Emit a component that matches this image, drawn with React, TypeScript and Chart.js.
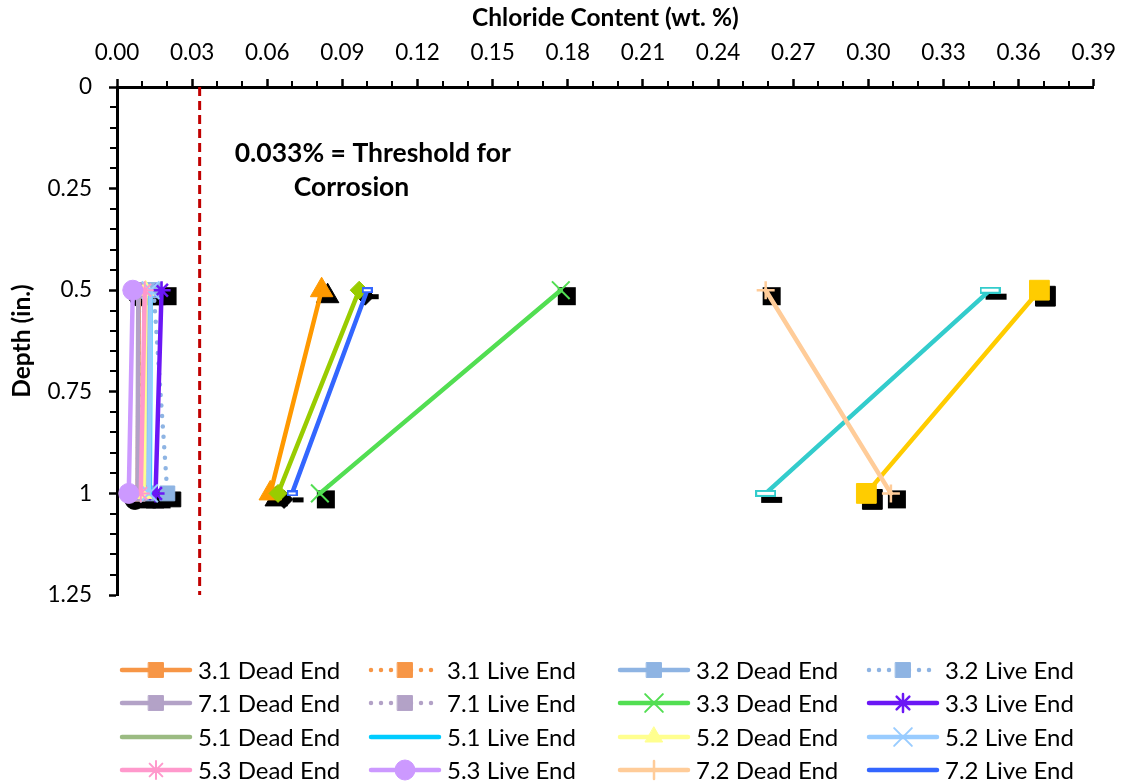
import React, { useEffect, useRef } from 'react';
import { Chart, registerables } from 'chart.js';
import { drawPoint } from 'chart.js/helpers';

Chart.register(...registerables);

// Sample depths (in.)
const depths = [0.5, 1];

// Chloride content (wt. %) at 0.5 in. and 1.0 in.
const dead31 = [0.0087, 0.0083];
const live31 = [0.0088, 0.0084];
const dead32 = [0.013, 0.0126];
const live32 = [0.0146, 0.0201];
const dead71 = [0.0085, 0.0082];
const live71 = [0.0086, 0.0083];
const dead33 = [0.1772, 0.081];
const live33 = [0.0178, 0.0154];
const dead51 = [0.011, 0.0107];
const live51 = [0.0134, 0.0131];
const dead52 = [0.0114, 0.0106];
const live52 = [0.0134, 0.0128];
const dead53 = [0.0111, 0.0095];
const live53 = [0.0063, 0.0047];
const dead72 = [0.259, 0.309];
const live72 = [0.0999, 0.0699];

// Additional cores plotted without legend entries
const coreA = [0.0817, 0.0612];
const coreB = [0.0967, 0.0643];
const coreC = [0.3486, 0.259];
const coreD = [0.3683, 0.2992];

// Corrosion threshold and axis ranges
const threshold = 0.033;
const depthRange = [0, 1.25];
const xMax = 0.39;
const xStep = 0.03;
const yStep = 0.25;

const thresholdText = ['0.033% = Threshold for', 'Corrosion'];

type Style = {
  color: string;
  marker?: string;
  r?: number;
  dotted?: boolean;
  stroke?: number;
  dash?: [number, number];
  legendMarker?: boolean;
};

const legendSeries: [string, number[], Style][] = [
  ['3.1 Dead End', dead31, { color: '#F79646', marker: 'rect', r: 10.5 }],
  ['3.1 Live End', live31, { color: '#F79646', marker: 'rect', r: 10.5, dotted: true }],
  ['3.2 Dead End', dead32, { color: '#8EB4E3', marker: 'rect', r: 10.5 }],
  ['3.2 Live End', live32, { color: '#8EB4E3', marker: 'rect', r: 10.5, dotted: true }],
  ['7.1 Dead End', dead71, { color: '#B3A2C7', marker: 'rect', r: 10.5 }],
  ['7.1 Live End', live71, { color: '#B3A2C7', marker: 'rect', r: 10.5, dotted: true }],
  ['3.3 Dead End', dead33, { color: '#52DE52', marker: 'crossRot', r: 12.5, stroke: 2 }],
  ['3.3 Live End', live33, { color: '#6B17F5', marker: 'star', r: 9, stroke: 2.5 }],
  ['5.1 Dead End', dead51, { color: '#9BBB82' }],
  ['5.1 Live End', live51, { color: '#00CCFF' }],
  ['5.2 Dead End', dead52, { color: '#FFFF8F', marker: 'triangle', r: 10 }],
  ['5.2 Live End', live52, { color: '#99CCFF', marker: 'crossRot', r: 12.5, stroke: 2 }],
  ['5.3 Dead End', dead53, { color: '#FF99CC', marker: 'star', r: 9, stroke: 2 }],
  ['5.3 Live End', live53, { color: '#CC99FF', marker: 'circle', r: 10 }],
  ['7.2 Dead End', dead72, { color: '#FFCC99', marker: 'cross', r: 9, stroke: 2.5 }],
  ['7.2 Live End', live72, { color: '#3366FF', dash: [11, 6], legendMarker: false }],
];

const otherSeries: [string, number[], Style][] = [
  ['Core A', coreA, { color: '#FF9900', marker: 'triangle', r: 13 }],
  ['Core B', coreB, { color: '#99CC00', marker: 'rectRot', r: 9 }],
  ['Core C', coreC, { color: '#33CCCC', dash: [21, 7] }],
  ['Core D', coreD, { color: '#FFCC00', marker: 'rect', r: 14 }],
];

const FONT = 'Lato, "Open Sans", sans-serif';

function dashMarker(color: string, w: number, h: number) {
  const c = document.createElement('canvas');
  c.width = w;
  c.height = h;
  const g = c.getContext('2d')!;
  g.fillStyle = '#fff';
  g.fillRect(0, 0, w, h);
  g.strokeStyle = color;
  g.lineWidth = 2;
  g.strokeRect(1, 1, w - 2, h - 2);
  return c;
}

function makeDataset(label: string, xs: number[], s: Style, idx: number, legendIdx: number) {
  let pointStyle: any = s.marker ?? false;
  let radius = s.marker ? s.r : 0;
  if (s.dash) {
    pointStyle = dashMarker(s.color, s.dash[0], s.dash[1]);
    radius = 8;
  }
  return {
    label,
    data: depths.map((d, i) => ({ x: xs[i], y: d })),
    showLine: true,
    borderColor: s.color,
    backgroundColor: s.color,
    borderWidth: 4.5,
    borderDash: s.dotted ? [0, 10.5] : [],
    borderCapStyle: 'round',
    pointStyle,
    pointRadius: radius,
    pointHoverRadius: radius,
    pointBackgroundColor: s.color,
    pointBorderColor: s.color,
    pointBorderWidth: s.stroke ?? 1,
    order: -idx,
    style: s,
    legendIdx,
  };
}

function shadowFor(ctx: CanvasRenderingContext2D, s: Style, x: number, y: number) {
  const ox = x + 6;
  const oy = y + 6;
  if (s.dash) {
    ctx.fillRect(ox - s.dash[0] / 2, oy - s.dash[1] / 2 + 1, s.dash[0], s.dash[1] - 1);
    return;
  }
  if (!s.marker) return;
  const r = s.r ?? 8;
  if (s.marker === 'cross' || s.marker === 'star') {
    ctx.fillRect(ox - r, oy - r, 2 * r, 2 * r);
    return;
  }
  if (s.marker === 'crossRot') {
    const h = r * 0.72;
    ctx.fillRect(ox - h, oy - h, 2 * h, 2 * h);
    return;
  }
  drawPoint(ctx, { pointStyle: s.marker as any, rotation: 0, radius: r, borderWidth: 1 }, ox, oy);
}

const markerShadows = {
  id: 'markerShadows',
  beforeDatasetsDraw(chart: any) {
    const ctx = chart.ctx as CanvasRenderingContext2D;
    ctx.save();
    ctx.fillStyle = '#000';
    ctx.strokeStyle = '#000';
    chart.data.datasets.forEach((ds: any, i: number) => {
      if (!ds.style) return;
      const meta = chart.getDatasetMeta(i);
      meta.data.forEach((pt: any) => shadowFor(ctx, ds.style, pt.x, pt.y));
    });
    ctx.restore();
  },
};

const minorTicks = {
  id: 'minorTicks',
  afterDraw(chart: any) {
    const ctx = chart.ctx as CanvasRenderingContext2D;
    const xs = chart.scales.x;
    const ys = chart.scales.y;
    const { left, top } = chart.chartArea;
    ctx.save();
    ctx.strokeStyle = '#000';
    ctx.lineWidth = 2;
    ctx.beginPath();
    for (let k = 1; k < Math.round(xMax * 100); k++) {
      if (k % 3 === 0) continue;
      const px = Math.round(xs.getPixelForValue(k / 100));
      ctx.moveTo(px, top - 6);
      ctx.lineTo(px, top);
    }
    for (let k = 1; k < Math.round(depthRange[1] * 20); k++) {
      if (k % 5 === 0) continue;
      const py = Math.round(ys.getPixelForValue(k / 20));
      ctx.moveTo(left - 7, py);
      ctx.lineTo(left, py);
    }
    ctx.stroke();
    ctx.restore();
  },
};

const thresholdLabel = {
  id: 'thresholdLabel',
  afterDraw(chart: any) {
    const ctx = chart.ctx as CanvasRenderingContext2D;
    const xs = chart.scales.x;
    const base = xs.getPixelForValue(threshold);
    const top = chart.chartArea.top;
    ctx.save();
    ctx.fillStyle = '#000';
    ctx.font = `bold 26.5px ${FONT}`;
    ctx.textBaseline = 'middle';
    ctx.textAlign = 'left';
    ctx.fillText(thresholdText[0], base + 35, top + 66);
    ctx.fillText(thresholdText[1], base + 94, top + 100);
    ctx.restore();
  },
};

const seriesLegend = {
  id: 'seriesLegend',
  afterDraw(chart: any) {
    const ctx = chart.ctx as CanvasRenderingContext2D;
    const colX = [120, 369, 618, 867];
    const rowY = [670, 703, 737, 770];
    ctx.save();
    chart.data.datasets.forEach((ds: any) => {
      if (ds.legendIdx == null || ds.legendIdx < 0) return;
      const s: Style = ds.style;
      const x0 = colX[ds.legendIdx % 4];
      const y = rowY[Math.floor(ds.legendIdx / 4)];
      ctx.strokeStyle = s.color;
      ctx.lineWidth = 4.5;
      ctx.lineCap = 'round';
      ctx.setLineDash(s.dotted ? [0, 10] : []);
      ctx.beginPath();
      ctx.moveTo(x0 + 2, y);
      ctx.lineTo(x0 + 70, y);
      ctx.stroke();
      ctx.setLineDash([]);
      if (s.marker && s.legendMarker !== false) {
        ctx.fillStyle = s.color;
        ctx.strokeStyle = s.color;
        ctx.lineWidth = s.stroke ?? 1;
        drawPoint(ctx, { pointStyle: s.marker as any, rotation: 0, radius: s.r ?? 8, borderWidth: s.stroke ?? 1 }, x0 + 36, y);
      }
      ctx.fillStyle = '#000';
      ctx.font = `24px ${FONT}`;
      ctx.textBaseline = 'middle';
      ctx.textAlign = 'left';
      ctx.fillText(ds.label, x0 + 78, y + 1);
    });
    ctx.restore();
  },
};

export default function App() {
  const ref = useRef<HTMLCanvasElement>(null);

  useEffect(() => {
    document.body.style.margin = '0';
    const canvas = ref.current!;
    const datasets: any[] = [];
    datasets.push({
      label: 'Threshold',
      data: depthRange.map((d) => ({ x: threshold, y: d })),
      showLine: true,
      borderColor: '#C00000',
      borderWidth: 3,
      borderDash: [9, 5],
      pointRadius: 0,
      order: 0,
    });
    otherSeries.forEach(([label, xs, s], i) => datasets.push(makeDataset(label, xs, s, i + 1, -1)));
    legendSeries.forEach(([label, xs, s], i) =>
      datasets.push(makeDataset(label, xs, s, i + 1 + otherSeries.length, i))
    );

    const chart = new Chart(canvas, {
      type: 'scatter',
      data: { datasets },
      options: {
        animation: false,
        responsive: false,
        devicePixelRatio: 1,
        layout: { padding: { left: 0, top: 0, right: 24, bottom: 189 } },
        plugins: { legend: { display: false }, tooltip: { enabled: false } },
        scales: {
          x: {
            type: 'linear',
            position: 'top',
            min: 0,
            max: xMax,
            ticks: {
              stepSize: xStep,
              color: '#000',
              padding: 13,
              font: { family: FONT, size: 22.5 },
              callback: (v: any) => Number(v).toFixed(2),
            },
            grid: { drawOnChartArea: false, drawTicks: true, tickLength: 8, tickColor: '#000', tickWidth: 2.5 },
            border: { display: true, color: '#000', width: 3 },
            title: {
              display: true,
              text: 'Chloride Content (wt. %)',
              color: '#000',
              font: { family: FONT, size: 24.5, weight: 'bold' },
              padding: { top: 3, bottom: 0 },
            },
            afterFit: (scale: any) => {
              scale.height = 87;
            },
          },
          y: {
            type: 'linear',
            reverse: true,
            min: depthRange[0],
            max: depthRange[1],
            ticks: {
              stepSize: yStep,
              color: '#000',
              padding: 17,
              font: { family: FONT, size: 22.5 },
              callback: (v: any) => String(Number(Number(v).toFixed(2))),
            },
            grid: { drawOnChartArea: false, drawTicks: true, tickLength: 8, tickColor: '#000', tickWidth: 2.5 },
            border: { display: true, color: '#000', width: 3 },
            title: {
              display: true,
              text: 'Depth (in.)',
              color: '#000',
              font: { family: FONT, size: 24.5, weight: 'bold' },
              padding: { top: 7, bottom: 0 },
            },
            afterFit: (scale: any) => {
              scale.width = 117;
            },
          },
        },
      } as any,
      plugins: [markerShadows, minorTicks, thresholdLabel, seriesLegend],
    });
    return () => chart.destroy();
  }, []);

  return (
    <div style={{ width: 1129, height: 784, background: '#fff' }}>
      <canvas ref={ref} width={1129} height={784} style={{ display: 'block' }} />
    </div>
  );
}
